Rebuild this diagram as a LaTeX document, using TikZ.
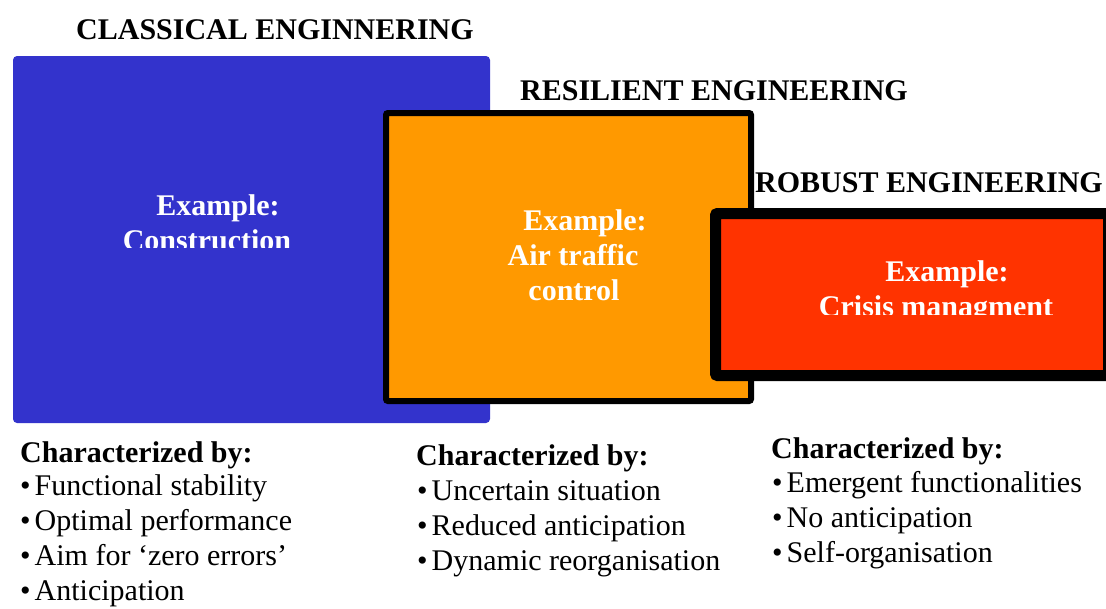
\documentclass[tikz,border=0pt]{standalone}
\usepackage{fontspec}
\setmainfont{Liberation Serif}

\definecolor{classicblue}{HTML}{3333CC}
\definecolor{resilorange}{HTML}{FF9900}
\definecolor{robustred}{HTML}{FF3300}

\begin{document}
\begin{tikzpicture}[x=1pt,y=-1pt,
    heading/.style={font=\fontsize{30}{35}\selectfont\bfseries, anchor=base west, inner sep=0pt},
    example/.style={font=\fontsize{30}{35}\selectfont\bfseries, text=white, anchor=base, inner sep=0pt},
    item/.style={font=\fontsize{30}{35}\selectfont, anchor=base west, inner sep=0pt}]
    \useasboundingbox (0,0) rectangle (1106,608);
    \clip (0,0) rectangle (1106,608);
    % classical engineering
    \fill[classicblue, rounded corners=4] (13,56) rectangle (490,423);
    \node[example] (classic-ex) at (218,215) {Example:};
    \begin{scope}
        \clip (13,56) rectangle (490,247);
        \node[example] (classic-case) at (207,250) {Construction};
    \end{scope}
    % resilient engineering
    \draw[line width=6, fill=resilorange, rounded corners=2] (386,113) rectangle (751,401);
    \node[example] (resil-ex) at (585,230) {Example:};
    \node[example] (resil-case) at (573,265) {Air traffic};
    \node[example] (resil-case2) at (574,300) {control};
    % robust engineering
    \draw[line width=11, fill=robustred, rounded corners=2] (715.5,213.5) rectangle (1108.5,375.5);
    \node[example] (robust-ex) at (947,281) {Example:};
    \begin{scope}
        \clip (721,220) rectangle (1103,314);
        \node[example] (robust-case) at (936,316) {Crisis managment};
    \end{scope}
    % titles
    \node[heading] (classic-title) at (76,39) {CLASSICAL ENGINNERING};
    \node[heading] (resil-title) at (520,100) {RESILIENT ENGINEERING};
    \node[heading] (robust-title) at (755,192) {ROBUST ENGINEERING};
    % characteristics
    \node[heading] (classic-char) at (20,462) {Characterized by:};
    \foreach \txt [count=\i] in {Functional stability, Optimal performance, Aim for `zero errors', Anticipation}
        \node[item] (classic-\i) at (20,460+35*\i) {\textbullet\kern4pt\txt};
    \node[heading] (resil-char) at (416,465) {Characterized by:};
    \foreach \txt [count=\i] in {Uncertain situation, Reduced anticipation, Dynamic reorganisation}
        \node[item] (resil-\i) at (417,465+35*\i) {\textbullet\kern4pt\txt};
    \node[heading] (robust-char) at (771,458) {Characterized by:};
    \foreach \txt [count=\i] in {Emergent functionalities, No anticipation, Self-organisation}
        \node[item] (robust-\i) at (772,457+35*\i) {\textbullet\kern4pt\txt};
\end{tikzpicture}
\end{document}
